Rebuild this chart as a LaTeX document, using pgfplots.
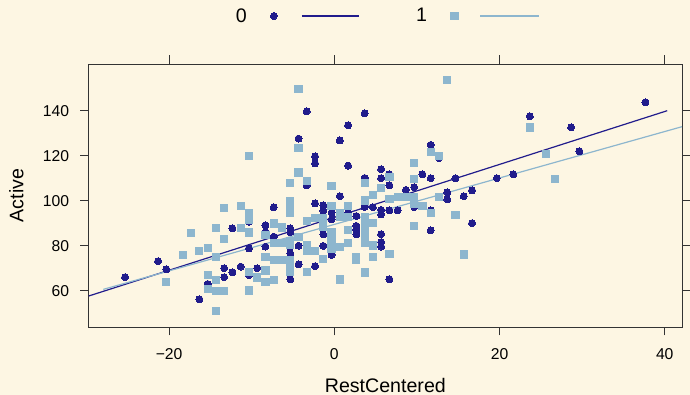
\documentclass[border=0pt]{standalone}
\usepackage{pgfplots}
\pgfplotsset{compat=1.18}
\usepackage{pgfplotstable}
\usepackage{fontspec}
\setmainfont{Liberation Sans}
\definecolor{bg}{HTML}{FDF6E3}
\definecolor{c0}{HTML}{211C8C}
\definecolor{c1}{HTML}{8DB6CE}
\definecolor{frame}{HTML}{333333}

\pgfplotstableread{
x y
-25.33 66.0
-21.33 73.1
-20.33 69.5
-16.33 56.2
-15.33 63.0
-13.33 70.0
-13.33 66.0
-12.33 68.2
-11.33 70.7
-10.33 67.0
-9.33 70.0
-12.33 87.7
-10.33 78.8
-10.33 90.7
-8.33 89.1
-8.33 86.0
-8.33 79.6
-7.33 97.1
-7.33 84.0
-3.33 139.7
-4.33 127.6
0.67 126.8
-2.33 119.7
-2.33 116.6
-3.33 106.8
-2.33 98.8
-1.33 97.9
-1.33 95.6
-0.33 94.7
-0.33 91.7
-5.33 87.7
-5.33 86.0
-5.33 79.6
-5.33 76.6
-4.33 80.0
-1.33 85.0
-1.33 79.9
-0.33 75.9
-4.33 71.7
-2.33 70.9
-5.33 65.1
3.67 138.8
1.67 133.5
1.67 115.6
11.67 124.8
12.67 119.0
5.67 114.0
5.67 110.0
6.67 111.7
6.67 106.8
3.67 110.1
10.67 111.7
11.67 110.0
14.67 110.0
9.67 106.0
8.67 104.8
13.67 103.7
13.67 100.6
0.67 102.0
3.67 97.2
4.67 97.1
1.67 94.7
5.67 95.9
5.67 93.9
6.67 95.7
7.67 95.7
9.67 97.2
11.67 95.7
2.67 93.2
2.67 88.8
2.67 87.0
2.67 85.1
5.67 85.1
5.67 81.6
5.67 79.6
11.67 86.8
6.67 65.1
15.67 102.0
16.67 90.0
16.67 104.6
19.67 110.0
21.67 111.7
23.67 137.5
28.67 132.6
29.67 122.0
37.67 143.7
}\groupzero

\pgfplotstableread{
x y
-10.33 119.9
-13.33 96.9
-11.33 97.8
-10.33 94.4
-10.33 91.4
-17.33 85.8
-14.33 88.0
-13.33 83.0
-11.33 88.0
-10.33 85.9
-8.33 84.6
-7.33 89.9
-18.33 76.0
-16.33 77.8
-15.33 79.1
-14.33 75.1
-8.33 75.1
-7.33 73.8
-6.33 73.8
-6.33 81.3
-7.33 81.3
-20.33 64.0
-15.33 67.0
-14.33 64.8
-15.33 60.8
-14.33 60.0
-13.33 60.0
-10.33 60.1
-10.33 68.2
-9.33 65.9
-8.33 69.0
-8.33 64.0
-7.33 64.8
-14.33 51.1
-4.33 149.6
-4.33 123.6
-4.33 112.5
-5.33 108.0
-3.33 108.9
-0.33 106.7
-5.33 99.9
-5.33 97.2
-0.33 97.6
13.67 153.6
3.67 108.0
6.67 110.7
9.67 116.9
9.67 109.8
11.67 121.8
12.67 119.9
5.67 105.8
4.67 102.5
6.67 100.8
7.67 101.8
8.67 101.8
9.67 101.8
9.67 98.8
10.67 97.7
12.67 101.8
11.67 94.7
14.67 93.8
9.67 88.9
15.67 76.1
3.67 100.1
1.67 97.8
0.67 94.5
1.67 92.6
3.67 92.9
3.67 90.0
4.67 90.0
3.67 87.0
3.67 84.0
3.67 81.1
4.67 80.1
1.67 87.0
1.67 81.1
0.67 79.6
2.67 75.1
2.67 73.6
4.67 75.1
6.67 76.2
3.67 68.1
0.67 65.0
-6.33 88.1
-5.33 94.4
-3.33 91.1
-2.33 92.2
-1.33 88.5
-0.33 85.9
-0.33 81.9
-0.33 78.8
0.67 92.9
-5.33 80.2
-5.33 82.2
-3.33 80.3
-3.33 77.6
-2.33 77.6
-5.33 73.6
-5.33 70.7
-5.33 68.5
-3.33 68.2
-1.33 74.0
23.67 132.5
25.67 120.9
26.67 109.8
-4.33 84.0
-1.33 92.2
}\groupone

\pgfplotstableread{
x y
-29.73 57.64
40.30 140.0
}\linezero

\pgfplotstableread{
x y
-27.96 60.6
42.09 132.9
}\lineone

\pgfplotsset{
  dotleg/.style={legend image code/.code={\path (-26.9pt,0pt) (26.3pt,0pt);\draw[##1] plot coordinates {(0pt,0pt)};}},
  sqleg/.style={legend image code/.code={\path (-27.2pt,0pt) (24pt,0pt);\draw[##1] plot coordinates {(0pt,0pt)};}},
  lineAleg/.style={legend image code/.code={\path (0pt,0pt) (113.6pt,0pt);\draw[##1] plot coordinates {(0pt,0pt) (57.3pt,0pt)};}},
  lineBleg/.style={legend image code/.code={\path (0pt,0pt) (58.7pt,0pt);\draw[##1] plot coordinates {(0pt,0pt) (58.7pt,0pt)};}},
}

\begin{document}
\begin{tikzpicture}
\fill[bg] (0pt,0pt) rectangle (690pt,395pt);
\begin{axis}[
  at={(88.7pt,68pt)}, anchor=south west,
  scale only axis, width=593.3pt, height=263pt,
  xmin=-29.73, xmax=42.09, ymin=43.87, ymax=160.76,
  xtick={-20,0,20,40}, xticklabels={−20,0,20,40},
  ytick={60,80,100,120,140}, yticklabels={60,80,100,120,140},
  tick align=outside, tick pos=both, major tick length=8.5pt,
  axis line style={frame, line width=0.9pt},
  every tick/.style={frame, line width=0.9pt},
  axis background/.style={fill=bg},
  tick label style={font=\fontsize{15.7}{18}\selectfont, text=black},
  xticklabel style={inner sep=0pt, anchor=north, yshift=-12.5pt},
  yticklabel style={inner sep=0pt, anchor=east, xshift=-11pt},
  label style={font=\fontsize{19.6}{23}\selectfont},
  xlabel={RestCentered}, ylabel={Active},
  xlabel style={at={(axis description cs:0.5,-0.2483)}, anchor=base, inner sep=0pt},
  ylabel style={at={(axis description cs:-0.1102,0.5)}, anchor=base, inner sep=0pt},
  legend plot pos=right, legend columns=4, legend cell align=left,
  legend style={at={(axis description cs:0.2481,1.1825)}, anchor=west,
    draw=none, fill=none, inner sep=0pt, outer sep=0pt,
    /tikz/column sep=0pt, nodes={inner sep=0pt, outer sep=0pt},
    font=\fontsize{19.6}{23}\selectfont},
]
\addplot[only marks, mark=*, color=c0, mark size=3.5pt, mark options={draw=c0, fill=c0, line width=0pt}, dotleg] table[x=x,y=y] {\groupzero};
\addlegendentry{0}
\addplot[no marks, color=c0, line width=1.2pt, lineAleg] table[x=x,y=y] {\linezero};
\addlegendentry{\mbox{}}
\addplot[only marks, mark=square*, color=c1, mark size=3.6pt, mark options={draw=c1, fill=c1, line width=0pt}, sqleg] table[x=x,y=y] {\groupone};
\addlegendentry{1}
\addplot[no marks, color=c1, line width=1.2pt, lineBleg] table[x=x,y=y] {\lineone};
\addlegendentry{\mbox{}}
\end{axis}
\pgfresetboundingbox
\path (0pt,0pt) rectangle (690pt,395pt);
\end{tikzpicture}
\end{document}
